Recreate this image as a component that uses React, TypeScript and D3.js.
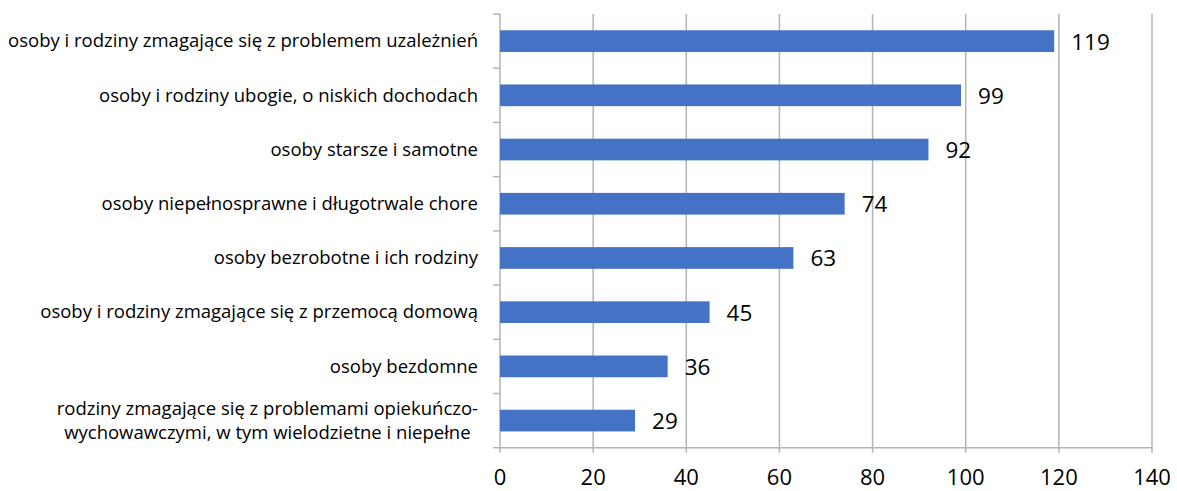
import React from "react";
import * as d3 from "d3";

// kategorie (od góry) i liczby z wykresu
const categories: string[][] = [
  ["osoby i rodziny zmagające się z problemem uzależnień"],
  ["osoby i rodziny ubogie, o niskich dochodach"],
  ["osoby starsze i samotne"],
  ["osoby niepełnosprawne i długotrwale chore"],
  ["osoby bezrobotne i ich rodziny"],
  ["osoby i rodziny zmagające się z przemocą domową"],
  ["osoby bezdomne"],
  ["rodziny zmagające się z problemami opiekuńczo-", "wychowawczymi, w tym wielodzietne i niepełne"],
];
const values = [119, 99, 92, 74, 63, 45, 36, 29];
const xTicks = [0, 20, 40, 60, 80, 100, 120, 140];

const W = 1177;
const H = 491;
const FONT = "'Open Sans', sans-serif";

function CategoryLabel({ lines, cy, right, fontSize }) {
  const ref = React.useRef<SVGTextElement>(null);
  const [cx, setCx] = React.useState(right);

  React.useLayoutEffect(() => {
    if (lines.length < 2 || !ref.current) return;
    const spans = Array.from(ref.current.querySelectorAll("tspan")) as SVGTSpanElement[];
    const widest = d3.max(spans, s => s.getComputedTextLength()) || 0;
    setCx(right - widest / 2);
  }, [lines, right]);

  if (lines.length === 1) {
    return (
      <text x={right} y={cy + fontSize * 0.34} textAnchor="end" fontSize={fontSize} fill="#000">
        {lines[0]}
      </text>
    );
  }
  const lh = 23.6;
  const y0 = cy - (lh * (lines.length - 1)) / 2 + fontSize * 0.34;
  return (
    <text ref={ref} textAnchor="middle" fontSize={fontSize} fill="#000">
      {lines.map((l, i) => (
        <tspan key={i} x={cx} y={y0 + i * lh}>{l}</tspan>
      ))}
    </text>
  );
}

export default function App() {
  const left = 500;
  const right = 1152;
  const top = 14;
  const bottom = 447.7;

  const keys = categories.map((_, i) => String(i));
  const x = d3.scaleLinear().domain([0, 140]).range([left, right]);
  const y = d3.scaleBand<string>().domain(keys).range([top, bottom]).paddingInner(0.6).paddingOuter(0.3);
  const step = y.step();

  const grid = "#b3b3b3";

  return (
    <svg width={W} height={H} style={{ position: "absolute", left: 0, top: 0, fontFamily: FONT }}>
      <rect width={W} height={H} fill="#fff" />

      {/* siatka pionowa */}
      {xTicks.filter(t => t > 0).map(t => (
        <line key={t} x1={x(t)} x2={x(t)} y1={top} y2={bottom + 5} stroke={grid} strokeWidth={1.5} />
      ))}

      {/* oś pozioma */}
      <line x1={left - 1} x2={right} y1={bottom} y2={bottom} stroke={grid} strokeWidth={1.5} />
      <line x1={left} x2={left} y1={bottom} y2={bottom + 5} stroke={grid} strokeWidth={1.5} />

      {/* oś pionowa z podziałkami kategorii */}
      <line x1={left} x2={left} y1={top} y2={bottom} stroke={grid} strokeWidth={1.5} />
      {d3.range(categories.length + 1).map(i => {
        const yy = top + i * step;
        return <line key={i} x1={left - 7} x2={left} y1={yy} y2={yy} stroke={grid} strokeWidth={1.5} />;
      })}

      {/* słupki */}
      {values.map((v, i) => (
        <rect
          key={i}
          x={x(0)}
          y={y(String(i))}
          width={x(v) - x(0)}
          height={y.bandwidth()}
          fill="#4472C4"
        />
      ))}

      {/* etykiety wartości */}
      {values.map((v, i) => (
        <text
          key={i}
          x={x(v) + 17}
          y={(y(String(i)) as number) + y.bandwidth() / 2 + 8.5}
          fontSize={22.5}
          fill="#000"
        >
          {v}
        </text>
      ))}

      {/* etykiety kategorii */}
      {categories.map((lines, i) => (
        <CategoryLabel
          key={i}
          lines={lines}
          cy={(y(String(i)) as number) + y.bandwidth() / 2}
          right={478}
          fontSize={18.5}
        />
      ))}

      {/* etykiety osi X */}
      {xTicks.map(t => (
        <text key={t} x={x(t)} y={485} textAnchor="middle" fontSize={22} fill="#000">
          {t}
        </text>
      ))}
    </svg>
  );
}
